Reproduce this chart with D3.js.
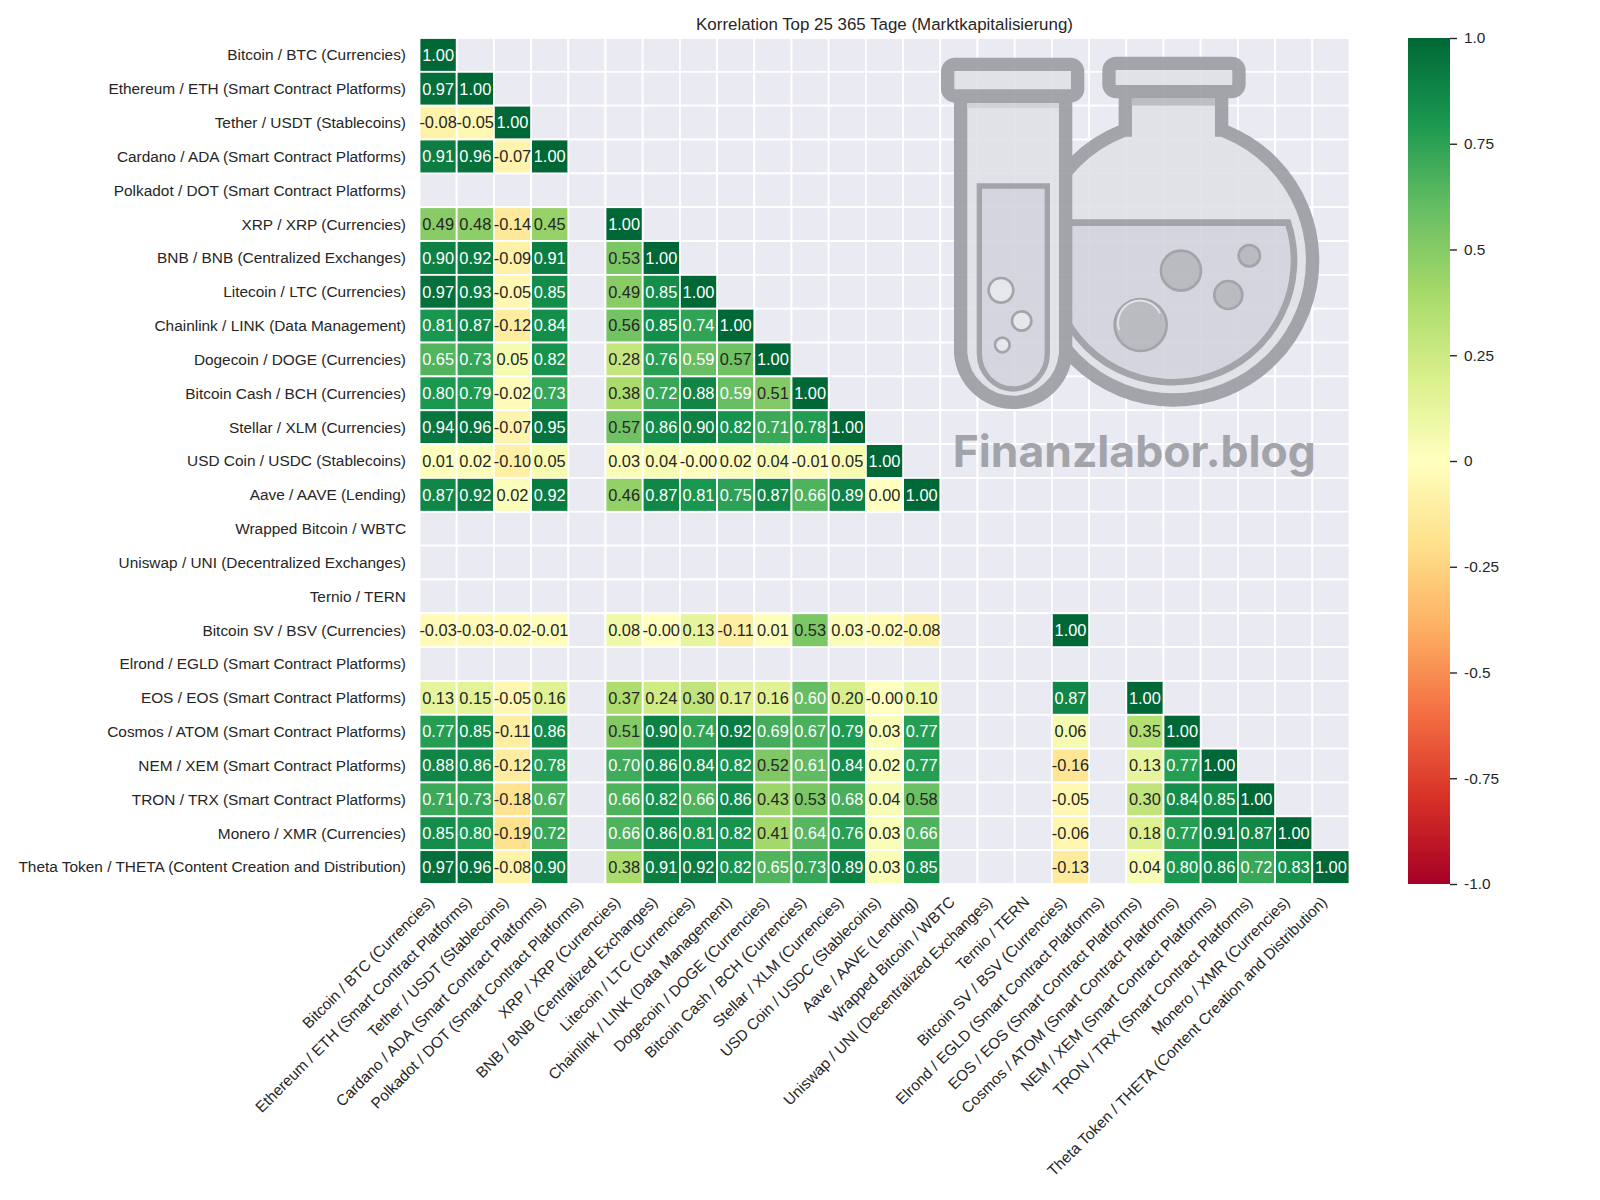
<!DOCTYPE html>
<html>
<head>
<meta charset="utf-8">
<script src="https://cdn.jsdelivr.net/npm/d3@7"></script>
<style>
  body { margin: 0; background: #fff; }
  text { font-family: "Liberation Sans", Arial, sans-serif; }
</style>
</head>
<body>
<svg id="chart" width="1600" height="1200"></svg>
<script>
const labels = [
  "Bitcoin / BTC (Currencies)",
  "Ethereum / ETH (Smart Contract Platforms)",
  "Tether / USDT (Stablecoins)",
  "Cardano / ADA (Smart Contract Platforms)",
  "Polkadot / DOT (Smart Contract Platforms)",
  "XRP / XRP (Currencies)",
  "BNB / BNB (Centralized Exchanges)",
  "Litecoin / LTC (Currencies)",
  "Chainlink / LINK (Data Management)",
  "Dogecoin / DOGE (Currencies)",
  "Bitcoin Cash / BCH (Currencies)",
  "Stellar / XLM (Currencies)",
  "USD Coin / USDC (Stablecoins)",
  "Aave / AAVE (Lending)",
  "Wrapped Bitcoin / WBTC",
  "Uniswap / UNI (Decentralized Exchanges)",
  "Ternio / TERN",
  "Bitcoin SV / BSV (Currencies)",
  "Elrond / EGLD (Smart Contract Platforms)",
  "EOS / EOS (Smart Contract Platforms)",
  "Cosmos / ATOM (Smart Contract Platforms)",
  "NEM / XEM (Smart Contract Platforms)",
  "TRON / TRX (Smart Contract Platforms)",
  "Monero / XMR (Currencies)",
  "Theta Token / THETA (Content Creation and Distribution)"
];

// lower triangle, null = no data. -0.001 stands for the printed "-0.00"
const _ = null;
const corr = [
  [1.00],
  [.97, 1.00],
  [-.08, -.05, 1.00],
  [.91, .96, -.07, 1.00],
  [],
  [.49, .48, -.14, .45, _, 1.00],
  [.90, .92, -.09, .91, _, .53, 1.00],
  [.97, .93, -.05, .85, _, .49, .85, 1.00],
  [.81, .87, -.12, .84, _, .56, .85, .74, 1.00],
  [.65, .73, .05, .82, _, .28, .76, .59, .57, 1.00],
  [.80, .79, -.02, .73, _, .38, .72, .88, .59, .51, 1.00],
  [.94, .96, -.07, .95, _, .57, .86, .90, .82, .71, .78, 1.00],
  [.01, .02, -.10, .05, _, .03, .04, -.001, .02, .04, -.01, .05, 1.00],
  [.87, .92, .02, .92, _, .46, .87, .81, .75, .87, .66, .89, .00, 1.00],
  [],
  [],
  [],
  [-.03, -.03, -.02, -.01, _, .08, -.001, .13, -.11, .01, .53, .03, -.02, -.08, _, _, _, 1.00],
  [],
  [.13, .15, -.05, .16, _, .37, .24, .30, .17, .16, .60, .20, -.001, .10, _, _, _, .87, _, 1.00],
  [.77, .85, -.11, .86, _, .51, .90, .74, .92, .69, .67, .79, .03, .77, _, _, _, .06, _, .35, 1.00],
  [.88, .86, -.12, .78, _, .70, .86, .84, .82, .52, .61, .84, .02, .77, _, _, _, -.16, _, .13, .77, 1.00],
  [.71, .73, -.18, .67, _, .66, .82, .66, .86, .43, .53, .68, .04, .58, _, _, _, -.05, _, .30, .84, .85, 1.00],
  [.85, .80, -.19, .72, _, .66, .86, .81, .82, .41, .64, .76, .03, .66, _, _, _, -.06, _, .18, .77, .91, .87, 1.00],
  [.97, .96, -.08, .90, _, .38, .91, .92, .82, .65, .73, .89, .03, .85, _, _, _, -.13, _, .04, .80, .86, .72, .83, 1.00]
];

const cbarTicks = [1, .75, .5, .25, 0, -.25, -.5, -.75, -1];
const cbarTickLabels = ["1.0", "0.75", "0.5", "0.25", "0", "-0.25", "-0.5", "-0.75", "-1.0"];

const svg = d3.select("#chart");
const m = {left: 419.5, right: 1349.5, top: 38, bottom: 884};
const inkColor = "#262626";

const x = d3.scaleBand().domain(d3.range(25)).range([m.left, m.right]);
const y = d3.scaleBand().domain(d3.range(25)).range([m.top, m.bottom]);

// same 11 anchor colours as the RdYlGn map
const stops = d3.schemeRdYlGn[11];
const color = d3.scaleLinear()
    .domain(d3.range(11).map(i => -1 + i * 0.2))
    .range(stops)
    .interpolate(d3.interpolateRgb);

// seaborn picks the annotation colour from the cell luminance
function textColor(v) {
  const c = d3.rgb(color(v));
  const lin = [c.r, c.g, c.b].map(k => {
    k /= 255;
    return k <= .03928 ? k / 12.92 : Math.pow((k + .055) / 1.055, 2.4);
  });
  const lum = .2126 * lin[0] + .7152 * lin[1] + .0722 * lin[2];
  return lum > .408 ? inkColor : "#fff";
}

// background cells
const cells = [];
d3.range(25).forEach(r => d3.range(25).forEach(c => cells.push({r, c})));
svg.append("g").selectAll("rect")
  .data(cells).enter().append("rect")
    .attr("x", d => x(d.c))
    .attr("y", d => y(d.r))
    .attr("width", x.bandwidth())
    .attr("height", y.bandwidth())
    .attr("fill", "#eaeaf2")
    .attr("stroke", "#fff")
    .attr("stroke-width", 1.8);

// value cells
const filled = [];
corr.forEach((row, r) => row.forEach((v, c) => { if (v !== null) filled.push({r, c, v}); }));

svg.append("g").selectAll("rect")
  .data(filled).enter().append("rect")
    .attr("x", d => x(d.c))
    .attr("y", d => y(d.r))
    .attr("width", x.bandwidth())
    .attr("height", y.bandwidth())
    .attr("fill", d => color(d.v))
    .attr("stroke", "#fff")
    .attr("stroke-width", 1.8);

// logo sits on top of the cells, coordinates in 3x units
const logo = svg.append("g")
    .attr("transform", "translate(900,30) scale(0.3333)")
    .attr("opacity", 0.9);
const grey = "#9c9da2", pale = "#e1e2e7", liquid = "#d2d3dc", bubble = "#b5b6bb";

// flask
logo.append("circle").attr("cx", 820).attr("cy", 692).attr("r", 418)
    .attr("fill", pale).attr("stroke", grey).attr("stroke-width", 40);
logo.append("path")
    .attr("d", "M676,320 V185 H965 V320")
    .attr("fill", pale).attr("stroke", grey).attr("stroke-width", 40);
logo.append("rect").attr("x", 695).attr("y", 205).attr("width", 250).attr("height", 22)
    .attr("fill", "#b9bac0");
logo.append("rect").attr("x", 627).attr("y", 100).attr("width", 390).attr("height", 85).attr("rx", 22)
    .attr("fill", pale).attr("stroke", grey).attr("stroke-width", 40);
logo.append("path")
    .attr("d", "M470,578 H1164 A365,365 0 1 1 470,805 Z")
    .attr("fill", liquid).attr("stroke", grey).attr("stroke-width", 20);
[[843, 722, 60], [1048, 677, 32], [985, 795, 42], [722, 885, 78]].forEach(b => {
  logo.append("circle").attr("cx", b[0]).attr("cy", b[1]).attr("r", b[2])
      .attr("fill", bubble).attr("stroke", grey).attr("stroke-width", 8);
});
logo.append("path")
    .attr("d", "M658,900 A66,66 0 0 1 780,850")
    .attr("fill", "none").attr("stroke", "#e1e2e7").attr("stroke-width", 6);

// test tube
logo.append("path")
    .attr("d", "M182,200 V970 A158,160 0 0 0 497,970 V200 Z")
    .attr("fill", pale).attr("stroke", grey).attr("stroke-width", 40);
logo.append("rect").attr("x", 202).attr("y", 220).attr("width", 275).attr("height", 14)
    .attr("fill", "#cfd0d6");
logo.append("rect").attr("x", 143).attr("y", 103).attr("width", 390).attr("height", 95).attr("rx", 22)
    .attr("fill", pale).attr("stroke", grey).attr("stroke-width", 40);
logo.append("path")
    .attr("d", "M238,468 H442 V970 A102,107 0 0 1 238,970 Z")
    .attr("fill", liquid).attr("stroke", grey).attr("stroke-width", 16);
[[303, 781, 37], [365, 873, 29], [307, 945, 22]].forEach(b => {
  logo.append("circle").attr("cx", b[0]).attr("cy", b[1]).attr("r", b[2])
      .attr("fill", "#e6e7ea").attr("stroke", grey).attr("stroke-width", 8);
});
logo.append("text")
    .attr("x", 158).attr("y", 1310)
    .attr("textLength", 1090)
    .attr("lengthAdjust", "spacingAndGlyphs")
    .attr("fill", grey)
    .style("font-family", "Inter")
    .style("font-weight", 700)
    .style("font-size", "133px")
    .text("Finanzlabor.blog");

// annotations
svg.append("g").selectAll("text")
  .data(filled).enter().append("text")
    .attr("x", d => x(d.c) + x.bandwidth() / 2)
    .attr("y", d => y(d.r) + y.bandwidth() / 2)
    .attr("dy", "0.35em")
    .attr("text-anchor", "middle")
    .attr("fill", d => textColor(d.v))
    .style("font-size", "16.4px")
    .text(d => d.v.toFixed(2));

// y labels
svg.append("g").selectAll("text")
  .data(labels).enter().append("text")
    .attr("x", 406)
    .attr("y", (d, i) => y(i) + y.bandwidth() / 2)
    .attr("dy", "0.35em")
    .attr("text-anchor", "end")
    .attr("fill", inkColor)
    .style("font-size", "15.4px")
    .text(d => d);

// x labels
svg.append("g").selectAll("text")
  .data(labels).enter().append("text")
    .attr("transform", (d, i) => `translate(${x(i) + x.bandwidth() / 2 - 3},${m.bottom + 19}) rotate(-45)`)
    .attr("text-anchor", "end")
    .attr("fill", inkColor)
    .style("font-size", "15.4px")
    .text(d => d);

// title
svg.append("text")
    .attr("x", (m.left + m.right) / 2)
    .attr("y", 30)
    .attr("text-anchor", "middle")
    .attr("fill", inkColor)
    .style("font-size", "16.9px")
    .text("Korrelation Top 25 365 Tage (Marktkapitalisierung)");

// colorbar
const cbarY = d3.scaleLinear().domain([-1, 1]).range([m.bottom, m.top]);
const grad = svg.append("defs").append("linearGradient")
    .attr("id", "cbar")
    .attr("x1", 0).attr("x2", 0).attr("y1", 1).attr("y2", 0);
grad.selectAll("stop")
  .data(color.domain()).enter().append("stop")
    .attr("offset", d => (d + 1) / 2)
    .attr("stop-color", d => color(d));

svg.append("rect")
    .attr("x", 1408)
    .attr("y", m.top)
    .attr("width", 42)
    .attr("height", m.bottom - m.top)
    .attr("fill", "url(#cbar)");

const cbarAxis = svg.append("g")
    .attr("transform", "translate(1450,0)")
    .call(d3.axisRight(cbarY)
      .tickValues(cbarTicks)
      .tickFormat((d, i) => cbarTickLabels[i])
      .tickSize(7)
      .tickPadding(7));
cbarAxis.select(".domain").remove();
cbarAxis.selectAll("line").attr("stroke", inkColor).attr("stroke-width", 1.4);
cbarAxis.selectAll("text")
    .attr("fill", inkColor)
    .style("font-family", '"Liberation Sans"')
    .style("font-size", "15.4px");
</script>
</body>
</html>
